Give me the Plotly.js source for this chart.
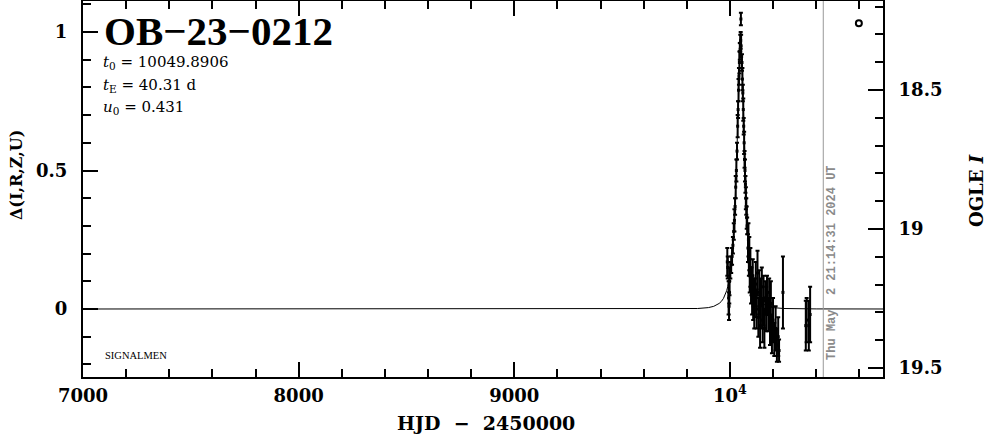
<!DOCTYPE html>
<html>
<head>
<meta charset="utf-8">
<script src="https://cdn.plot.ly/plotly-3.0.1.min.js"></script>
<style>html,body{margin:0;padding:0;background:#fff;}#chart{width:986px;height:434px;}</style>
</head>
<body>
<div id="chart"></div>
<script>
// Model light curve (HJD-2450000, Delta flux)
const modelT = [7000, 9500, 9700, 9800, 9850, 9900, 9925, 9950, 9960, 9970, 9980, 9985, 9990, 9995, 10000, 10005, 10010, 10015, 10020, 10024, 10028, 10032, 10036, 10040, 10044, 10048, 10050, 10052, 10056, 10060, 10064, 10068, 10072, 10076, 10080, 10085, 10090, 10095, 10100, 10110, 10120, 10135, 10150, 10175, 10200, 10250, 10300, 10400, 10710];
const modelD = [0, 0.00004, 0.0002, 0.0009, 0.0018, 0.005, 0.0096, 0.020, 0.027, 0.038, 0.055, 0.066, 0.081, 0.099, 0.122, 0.152, 0.190, 0.240, 0.305, 0.372, 0.453, 0.551, 0.665, 0.786, 0.895, 0.962, 0.970, 0.959, 0.890, 0.779, 0.658, 0.545, 0.448, 0.368, 0.300, 0.238, 0.189, 0.152, 0.121, 0.080, 0.054, 0.032, 0.020, 0.0096, 0.005, 0.0018, 0.0009, 0.0003, 0.00004];

// Observed data points
const dataT = [9988, 9990, 9994, 9996, 9997, 9998, 10002, 10006, 10010, 10014, 10018, 10021, 10024, 10027, 10030, 10033, 10036, 10038, 10040, 10042, 10044, 10046, 10048, 10050, 10051, 10052, 10056, 10058, 10060, 10062, 10064, 10066, 10068, 10070, 10072, 10074, 10076, 10078, 10080,
  10084, 10086, 10088, 10090, 10092, 10095, 10098, 10100, 10103, 10106, 10108, 10110, 10113, 10116, 10120, 10124, 10128, 10132, 10136, 10140, 10144, 10148, 10152, 10156, 10160, 10164, 10168, 10172, 10178, 10182, 10186, 10190, 10195, 10200, 10206, 10212, 10218, 10224, 10228, 10246,
  10352, 10356, 10366, 10372];
const dataD = [0.17, 0.15, 0.04, 0.01, 0.06, 0.10, 0.14, 0.16, 0.19, 0.23, 0.28, 0.32, 0.37, 0.44, 0.50, 0.57, 0.66, 0.72, 0.79, 0.84, 0.89, 0.93, 0.96, 0.97, 1.047, 0.95, 0.89, 0.83, 0.78, 0.72, 0.66, 0.60, 0.54, 0.50, 0.45, 0.40, 0.37, 0.33, 0.30,
  0.22, 0.25, 0.17, 0.20, 0.12, 0.15, 0.08, 0.10, 0.05, 0.12, 0.02, 0.06, -0.01, 0.04, 0.09, 0.00, 0.13, -0.03, 0.06, -0.06, 0.02, 0.08, -0.04, 0.03, -0.07, 0.04, 0.00, 0.05, -0.02, 0.06, -0.06, 0.02, -0.09, -0.04, -0.11, -0.07, -0.13, -0.10, -0.15, 0.06,
  -0.06, -0.04, -0.06, -0.02];
const dataErr = [0.05, 0.04, 0.06, 0.05, 0.04, 0.05, 0.03, 0.03, 0.03, 0.03, 0.03, 0.04, 0.03, 0.04, 0.04, 0.03, 0.04, 0.03, 0.04, 0.03, 0.04, 0.03, 0.03, 0.03, 0.023, 0.04, 0.03, 0.04, 0.03, 0.04, 0.03, 0.04, 0.03, 0.04, 0.03, 0.04, 0.03, 0.04, 0.03,
  0.05, 0.06, 0.05, 0.06, 0.06, 0.07, 0.06, 0.05, 0.07, 0.06, 0.06, 0.05, 0.06, 0.07, 0.08, 0.07, 0.08, 0.07, 0.08, 0.08, 0.09, 0.07, 0.08, 0.09, 0.07, 0.06, 0.08, 0.07, 0.06, 0.05, 0.07, 0.08, 0.07, 0.08, 0.06, 0.08, 0.06, 0.07, 0.04, 0.13,
  0.09, 0.08, 0.09, 0.10];

// OGLE symbol (legend circle) on the magnitude axis
const ogleT = [10598];
const ogleMag = [18.26];

// Tick labels
const xTickVals = [7000, 8000, 9000, 10000];
const xTickText = ['7000', '8000', '9000', '10<sup>4</sup>'];
const yTickVals = [0, 0.5, 1];
const yTickText = ['0', '0.5', '1'];
const y2TickVals = [18.5, 19, 19.5];
const y2TickText = ['18.5', '19', '19.5'];

const nowT = 10433;
const dateText = 'Thu May\u00a0 2 21:14:31 2024 UT';

const tickFont = {family: 'DejaVu Serif', size: 18, weight: 'bold', color: '#000'};

const traces = [
  {x: modelT, y: modelD, type: 'scatter', mode: 'lines', line: {color: '#000', width: 1}, hoverinfo: 'skip'},
  {x: dataT, y: dataD, type: 'scatter', mode: 'markers',
   marker: {color: '#000', size: 3, symbol: 'square'},
   error_y: {type: 'data', array: dataErr, visible: true, color: '#000', thickness: 2, width: 2}},
  {x: ogleT, y: ogleMag, yaxis: 'y2', type: 'scatter', mode: 'markers',
   marker: {symbol: 'circle-open', size: 6, color: '#000', line: {width: 2, color: '#000'}}}
];

const layout = {
  width: 986, height: 434,
  margin: {l: 83, r: 103, t: 1, b: 57, pad: 0},
  paper_bgcolor: '#fff', plot_bgcolor: '#fff',
  showlegend: false,
  xaxis: {
    range: [7000, 10710], tickvals: xTickVals, ticktext: xTickText,
    ticks: 'inside', ticklen: 15, tickwidth: 2, tickcolor: '#000',
    showline: true, linewidth: 2, linecolor: '#000', mirror: 'ticks',
    showgrid: false, zeroline: false, tickfont: tickFont, ticklabelstandoff: 1,
    minor: {dtick: 200, tick0: 7000, ticks: 'inside', ticklen: 8, tickwidth: 2, tickcolor: '#000', showgrid: false}
  },
  yaxis: {
    range: [-0.2455, 1.112], tickvals: yTickVals, ticktext: yTickText,
    ticks: 'inside', ticklen: 15, tickwidth: 2, tickcolor: '#000',
    showline: true, linewidth: 2, linecolor: '#000', mirror: false,
    showgrid: false, zeroline: false, tickfont: tickFont, ticklabelstandoff: 10,
    minor: {dtick: 0.1, tick0: 0, ticks: 'inside', ticklen: 8, tickwidth: 2, tickcolor: '#000', showgrid: false}
  },
  yaxis2: {
    overlaying: 'y', side: 'right',
    range: [19.532, 18.18], tickvals: y2TickVals, ticktext: y2TickText,
    ticks: 'inside', ticklen: 15, tickwidth: 2, tickcolor: '#000',
    showline: true, linewidth: 2, linecolor: '#000',
    showgrid: false, zeroline: false, tickfont: tickFont, ticklabelstandoff: 10,
    minor: {dtick: 0.1, tick0: 18.5, ticks: 'inside', ticklen: 8, tickwidth: 2, tickcolor: '#000', showgrid: false}
  },
  shapes: [
    {type: 'line', xref: 'x', yref: 'paper', x0: nowT, x1: nowT, y0: 0, y1: 1, line: {color: '#999', width: 1}}
  ],
  annotations: [
    {xref: 'paper', yref: 'paper', x: 0.024, y: 0.92, xanchor: 'left', yanchor: 'middle', showarrow: false,
     text: 'OB\u221223\u22120212', font: {family: 'Liberation Serif', size: 41, weight: 'bold', color: '#000'}},
    {xref: 'paper', yref: 'paper', x: 0.022, y: (377 - 63) / 376, xanchor: 'left', yanchor: 'middle', showarrow: false,
     text: '<i>t</i><sub>0</sub> = 10049.8906', font: {family: 'DejaVu Serif', size: 15, color: '#000'}},
    {xref: 'paper', yref: 'paper', x: 0.022, y: (377 - 85) / 376, xanchor: 'left', yanchor: 'middle', showarrow: false,
     text: '<i>t</i><sub>E</sub> = 40.31 d', font: {family: 'DejaVu Serif', size: 15, color: '#000'}},
    {xref: 'paper', yref: 'paper', x: 0.022, y: (377 - 107) / 376, xanchor: 'left', yanchor: 'middle', showarrow: false,
     text: '<i>u</i><sub>0</sub> = 0.431', font: {family: 'DejaVu Serif', size: 15, color: '#000'}},
    {xref: 'paper', yref: 'paper', x: 0.025, y: (377 - 355) / 376, xanchor: 'left', yanchor: 'middle', showarrow: false,
     text: 'SIGNALMEN', font: {family: 'Liberation Serif', size: 10.5, color: '#000'}},
    {xref: 'x', yref: 'paper', x: 10473, y: (377 - 263) / 376, xanchor: 'center', yanchor: 'middle', showarrow: false, textangle: -90,
     text: dateText, font: {family: 'Liberation Mono', size: 12, weight: 'bold', color: '#8a8a8a'}},
    {xref: 'paper', yref: 'paper', x: 0.504, y: -0.122, xanchor: 'center', yanchor: 'middle', showarrow: false,
     text: 'HJD\u00a0 \u2212 \u00a02450000', font: {family: 'DejaVu Serif', size: 19, weight: 'bold', color: '#000'}},
    {xref: 'paper', yref: 'paper', x: -0.0838, y: 0.537, xanchor: 'center', yanchor: 'middle', showarrow: false, textangle: -90,
     text: '\u0394(I,R,Z,U)', font: {family: 'DejaVu Serif', size: 16, weight: 'bold', color: '#000'}},
    {xref: 'paper', yref: 'paper', x: 1.116, y: 0.497, xanchor: 'center', yanchor: 'middle', showarrow: false, textangle: -90,
     text: 'OGLE <i>I</i>', font: {family: 'DejaVu Serif', size: 18, weight: 'bold', color: '#000'}}
  ]
};

Plotly.newPlot('chart', traces, layout, {displayModeBar: false, staticPlot: true});
</script>
</body>
</html>
